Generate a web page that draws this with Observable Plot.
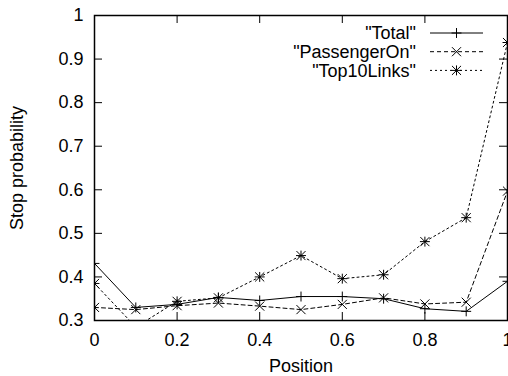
<!DOCTYPE html>
<html><head><meta charset="utf-8">
<script src="https://cdn.jsdelivr.net/npm/d3@7"></script>
<script src="https://cdn.jsdelivr.net/npm/@observablehq/plot@0.6"></script>
<style>
body{margin:0;background:#fff}
#chart{position:relative;width:508px;height:376px}
#legend{position:absolute;left:0;top:0;pointer-events:none}
</style>
</head><body><div id="chart"></div>
<script>
const positions = [0, 0.1, 0.2, 0.3, 0.4, 0.5, 0.6, 0.7, 0.8, 0.9, 1.0];
const total = [0.431, 0.330, 0.337, 0.353, 0.346, 0.355, 0.355, 0.350, 0.327, 0.321, 0.390];
const passengerOn = [0.330, 0.325, 0.334, 0.340, 0.333, 0.325, 0.337, 0.352, 0.338, 0.342, 0.597];
const top10Links = [0.385, 0.285, 0.344, 0.352, 0.400, 0.449, 0.396, 0.405, 0.481, 0.536, 0.938];
const seriesNames = ['"Total"', '"PassengerOn"', '"Top10Links"'];
const xTicks = [0, 0.2, 0.4, 0.6, 0.8, 1];
const yTicks = [0.3, 0.4, 0.5, 0.6, 0.7, 0.8, 0.9, 1];

const W = 508, H = 376, mL = 94, mR = 1, mT = 15, mB = 56;
const pw = W - mL - mR, ph = H - mT - mB;
const font = "'Liberation Sans', Arial, Helvetica, sans-serif";

const styles = [
  {dash: null, symbols: [["plus", 3.3]]},
  {dash: "4,3", symbols: [["times", 4.2]]},
  {dash: "2,3", symbols: [["plus", 3.3], ["times", 4.2]]}
];
const valuesList = [total, passengerOn, top10Links];
const series = seriesNames.map((name, i) => ({
  name, style: styles[i],
  rows: positions.map((x, j) => ({x, y: valuesList[i][j]}))
}));

const fmt = d3.format("~g");
const marks = [];
for (const s of series) {
  marks.push(Plot.line(s.rows, {x: "x", y: "y", stroke: "black", strokeWidth: 1, strokeDasharray: s.style.dash, clip: true}));
  for (const [sym, r] of s.style.symbols) {
    marks.push(Plot.dot(s.rows, {x: "x", y: "y", symbol: sym, r, stroke: "black", strokeWidth: 1, fill: "none", clip: true}));
  }
}
marks.push(
  Plot.tickY(yTicks, {y: d => d, insetRight: pw - 8, stroke: "black"}),
  Plot.tickY(yTicks, {y: d => d, insetLeft: pw - 8, stroke: "black"}),
  Plot.tickX(xTicks, {x: d => d, insetBottom: ph - 8, stroke: "black"}),
  Plot.tickX(xTicks, {x: d => d, insetTop: ph - 8, stroke: "black"}),
  Plot.frame({stroke: "black", strokeWidth: 1.5}),
  Plot.axisY(yTicks, {tickSize: 0, tickPadding: 11, tickFormat: fmt, label: "Stop probability", labelAnchor: "center", labelOffset: 84, labelArrow: false}),
  Plot.axisX(xTicks, {tickSize: 0, tickPadding: 13, tickFormat: fmt, label: "Position", labelAnchor: "center", labelOffset: 51, labelArrow: false})
);

const chart = Plot.plot({
  width: W, height: H,
  marginLeft: mL, marginRight: mR, marginTop: mT, marginBottom: mB,
  x: {domain: [0, 1]},
  y: {domain: [0.3, 1]},
  style: {fontFamily: font, fontSize: "18px", color: "black", background: "white", overflow: "visible"},
  marks
});
const holder = document.getElementById("chart");
holder.appendChild(chart);

// Legend (inside the plot, top right), built from the series list
const leg = d3.select(holder).append("svg").attr("id", "legend").attr("width", W).attr("height", H)
  .style("font-family", font).style("font-size", "18px");
const textRight = 416, lineX1 = 430, lineX2 = 483, top0 = 33, step = 18.7;
series.forEach((s, i) => {
  const y = top0 + i * step;
  leg.append("text").attr("x", textRight).attr("y", y).attr("dy", "0.35em").attr("text-anchor", "end").attr("fill", "black").text(s.name);
  leg.append("line").attr("x1", lineX1).attr("x2", lineX2).attr("y1", y).attr("y2", y)
    .attr("stroke", "black").attr("stroke-width", 1).attr("stroke-dasharray", s.style.dash);
  for (const [sym, r] of s.style.symbols) {
    const type = sym === "plus" ? d3.symbolPlus : d3.symbolTimes;
    leg.append("path").attr("d", d3.symbol(type, Math.PI * r * r)())
      .attr("transform", `translate(${(lineX1 + lineX2) / 2},${y})`)
      .attr("fill", "none").attr("stroke", "black").attr("stroke-width", 1);
  }
});
</script>
</body></html>
